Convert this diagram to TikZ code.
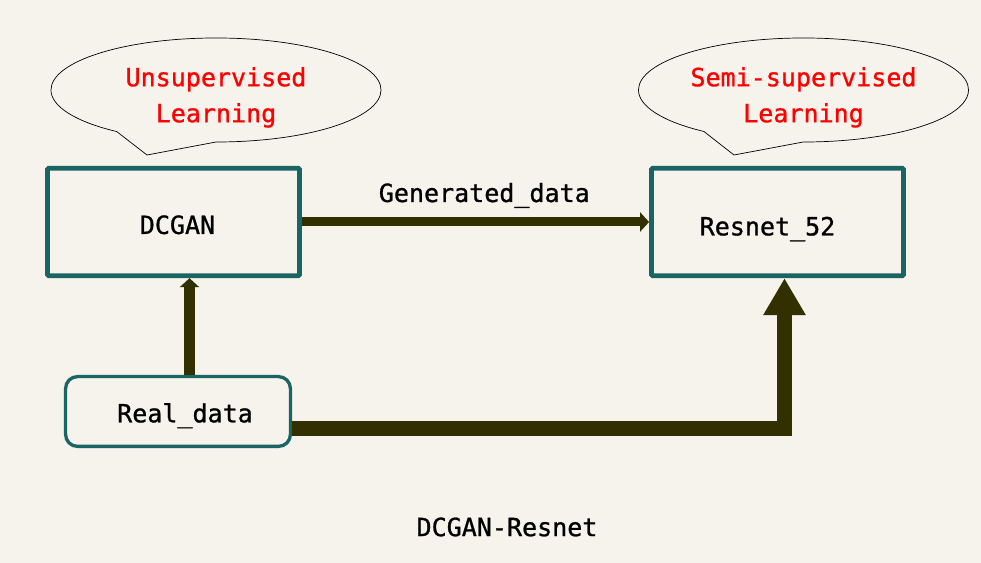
\documentclass[tikz,border=0pt]{standalone}
\usepackage{fontspec}
\setmainfont{DejaVu Sans Mono}[FakeBold=1]
\usetikzlibrary{arrows.meta,positioning,shapes.callouts}
\definecolor{paperBg}{RGB}{245,243,236}
\definecolor{boxTeal}{RGB}{27,100,100}
\definecolor{arrOlive}{RGB}{51,48,0}
\definecolor{noteRed}{RGB}{255,0,0}
% lower a label inside its shape, keeping the shape where it is
\newcommand{\lowered}[2]{\raisebox{-#1}[\height][\depth]{#2}}

\begin{document}
\begin{tikzpicture}[x=0.025cm, y=-0.025cm,
  mdl/.style={draw=boxTeal, line width=0.118cm, rounded corners=1pt, minimum width=6.3cm, minimum height=2.69cm, inner sep=0pt, font=\fontsize{17.8}{21}\selectfont},
  dat/.style={draw=boxTeal, line width=0.083cm, rounded corners=0.3cm, minimum width=5.62cm, minimum height=1.745cm, inner sep=0pt, font=\fontsize{17.8}{21}\selectfont},
  note/.style={ellipse callout, draw=black, line width=0.5pt, minimum width=8.25cm, minimum height=2.6cm, callout pointer arc=37, inner sep=0pt, align=center, text=noteRed, font=\fontsize{17.8}{25.6}\selectfont},
  genarr/.style={arrOlive, line width=0.225cm, -{Triangle[length=0.225cm, width=0.475cm]}},
  uparr/.style={arrOlive, line width=0.275cm, -{Triangle[length=0.225cm, width=0.475cm]}},
  bigarr/.style={arrOlive, line width=0.375cm, line join=miter, -{Triangle[length=0.925cm, width=1cm]}},
  lab/.style={font=\fontsize{17.8}{21}\selectfont, inner sep=0pt, text=black}
]
  % page
  \fill[paperBg] (0,0) rectangle (981,563);
  \useasboundingbox (0,0) rectangle (981,563);

  % models and data
  \node[mdl] (dcgan) at (173.5,222) {\lowered{2pt}{\hspace*{0.2cm}DCGAN}};
  \node[mdl] (resnet) at (777.5,222) {\lowered{5pt}{Resnet\_52\hspace*{0.5cm}}};
  \node[dat] (real) at (178,411.5) {\lowered{3pt}{\hspace*{0.35cm}Real\_data}};

  % speech bubbles
  \node[note, callout absolute pointer={(147,155)}] (unsup) at (216,90)
    {\lowered{5pt}{\begin{tabular}{@{}c@{}}Unsupervised\\Learning\end{tabular}}};
  \node[note, callout absolute pointer={(734,155)}] (semi) at (803.5,90)
    {\lowered{5pt}{\begin{tabular}{@{}c@{}}Semi-supervised\\Learning\end{tabular}}};

  % connectors
  \draw[genarr] (dcgan.east) -- node[lab, above=0.24cm, xshift=0.22cm] (gen) {Generated\_data} (resnet.west);
  \coordinate (upx) at ([xshift=0.4cm]dcgan.south);
  \draw[uparr] (upx |- real.north) -- (upx);
  \coordinate (bigx) at ([xshift=0.175cm]resnet.south);
  \draw[bigarr] ([yshift=-0.425cm]real.east) -| (bigx);

  \node[lab] (title) at (507,527) {DCGAN-Resnet};
\end{tikzpicture}
\end{document}
